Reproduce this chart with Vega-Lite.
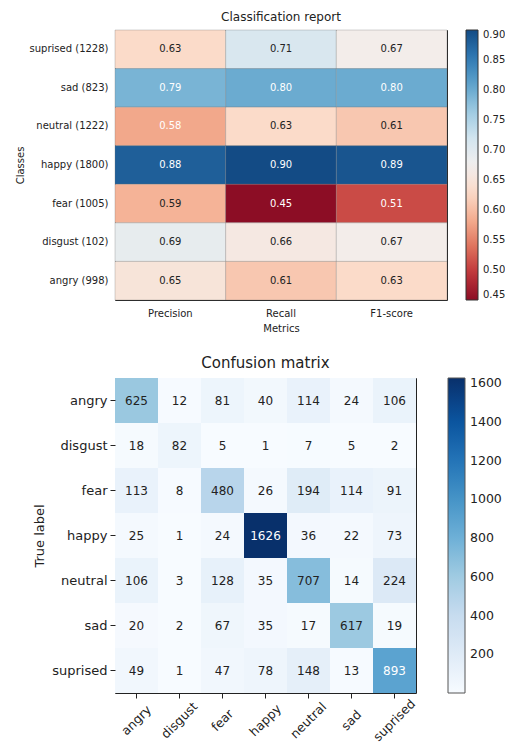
{
  "$schema": "https://vega.github.io/schema/vega-lite/v6.json",
  "padding": {"left": 14, "top": 10, "right": 0, "bottom": 0},
  "background": "white",
  "config": {
    "font": "DejaVu Sans",
    "view": {"stroke": "#222", "strokeWidth": 1},
    "axis": {"domain": false, "grid": false, "labelColor": "#222", "titleColor": "#222", "titleFontWeight": "normal", "tickColor": "#222"},
    "title": {"fontWeight": "normal", "color": "#222"},
    "legend": {"labelColor": "#222"}
  },
  "bounds": "flush",
  "spacing": 78,
  "resolve": {"scale": {"color": "independent"}, "legend": {"color": "independent"}},
  "datasets": {
    "report": [
      {"cls": "suprised (1228)", "metric": "Precision", "value": 0.63},
      {"cls": "suprised (1228)", "metric": "Recall", "value": 0.71},
      {"cls": "suprised (1228)", "metric": "F1-score", "value": 0.67},
      {"cls": "sad (823)", "metric": "Precision", "value": 0.79},
      {"cls": "sad (823)", "metric": "Recall", "value": 0.80},
      {"cls": "sad (823)", "metric": "F1-score", "value": 0.80},
      {"cls": "neutral (1222)", "metric": "Precision", "value": 0.58},
      {"cls": "neutral (1222)", "metric": "Recall", "value": 0.63},
      {"cls": "neutral (1222)", "metric": "F1-score", "value": 0.61},
      {"cls": "happy (1800)", "metric": "Precision", "value": 0.88},
      {"cls": "happy (1800)", "metric": "Recall", "value": 0.90},
      {"cls": "happy (1800)", "metric": "F1-score", "value": 0.89},
      {"cls": "fear (1005)", "metric": "Precision", "value": 0.59},
      {"cls": "fear (1005)", "metric": "Recall", "value": 0.45},
      {"cls": "fear (1005)", "metric": "F1-score", "value": 0.51},
      {"cls": "disgust (102)", "metric": "Precision", "value": 0.69},
      {"cls": "disgust (102)", "metric": "Recall", "value": 0.66},
      {"cls": "disgust (102)", "metric": "F1-score", "value": 0.67},
      {"cls": "angry (998)", "metric": "Precision", "value": 0.65},
      {"cls": "angry (998)", "metric": "Recall", "value": 0.61},
      {"cls": "angry (998)", "metric": "F1-score", "value": 0.63}
    ],
    "cm": [
      {"t": "angry", "p": "angry", "n": 625}, {"t": "angry", "p": "disgust", "n": 12}, {"t": "angry", "p": "fear", "n": 81}, {"t": "angry", "p": "happy", "n": 40}, {"t": "angry", "p": "neutral", "n": 114}, {"t": "angry", "p": "sad", "n": 24}, {"t": "angry", "p": "suprised", "n": 106},
      {"t": "disgust", "p": "angry", "n": 18}, {"t": "disgust", "p": "disgust", "n": 82}, {"t": "disgust", "p": "fear", "n": 5}, {"t": "disgust", "p": "happy", "n": 1}, {"t": "disgust", "p": "neutral", "n": 7}, {"t": "disgust", "p": "sad", "n": 5}, {"t": "disgust", "p": "suprised", "n": 2},
      {"t": "fear", "p": "angry", "n": 113}, {"t": "fear", "p": "disgust", "n": 8}, {"t": "fear", "p": "fear", "n": 480}, {"t": "fear", "p": "happy", "n": 26}, {"t": "fear", "p": "neutral", "n": 194}, {"t": "fear", "p": "sad", "n": 114}, {"t": "fear", "p": "suprised", "n": 91},
      {"t": "happy", "p": "angry", "n": 25}, {"t": "happy", "p": "disgust", "n": 1}, {"t": "happy", "p": "fear", "n": 24}, {"t": "happy", "p": "happy", "n": 1626}, {"t": "happy", "p": "neutral", "n": 36}, {"t": "happy", "p": "sad", "n": 22}, {"t": "happy", "p": "suprised", "n": 73},
      {"t": "neutral", "p": "angry", "n": 106}, {"t": "neutral", "p": "disgust", "n": 3}, {"t": "neutral", "p": "fear", "n": 128}, {"t": "neutral", "p": "happy", "n": 35}, {"t": "neutral", "p": "neutral", "n": 707}, {"t": "neutral", "p": "sad", "n": 14}, {"t": "neutral", "p": "suprised", "n": 224},
      {"t": "sad", "p": "angry", "n": 20}, {"t": "sad", "p": "disgust", "n": 2}, {"t": "sad", "p": "fear", "n": 67}, {"t": "sad", "p": "happy", "n": 35}, {"t": "sad", "p": "neutral", "n": 17}, {"t": "sad", "p": "sad", "n": 617}, {"t": "sad", "p": "suprised", "n": 19},
      {"t": "suprised", "p": "angry", "n": 49}, {"t": "suprised", "p": "disgust", "n": 1}, {"t": "suprised", "p": "fear", "n": 47}, {"t": "suprised", "p": "happy", "n": 78}, {"t": "suprised", "p": "neutral", "n": 148}, {"t": "suprised", "p": "sad", "n": 13}, {"t": "suprised", "p": "suprised", "n": 893}
    ]
  },
  "vconcat": [
    {
      "width": 332,
      "height": 270,
      "title": {"text": "Classification report", "fontSize": 12, "offset": 6},
      "data": {"name": "report"},
      "encoding": {
        "x": {"field": "metric", "type": "nominal", "sort": ["Precision", "Recall", "F1-score"],
          "axis": {"labelAngle": 0, "ticks": false, "labelPadding": 8, "title": "Metrics", "titlePadding": 5, "labelFontSize": 10, "titleFontSize": 10}},
        "y": {"field": "cls", "type": "nominal",
          "sort": ["suprised (1228)", "sad (823)", "neutral (1222)", "happy (1800)", "fear (1005)", "disgust (102)", "angry (998)"],
          "axis": {"ticks": false, "labelPadding": 7, "title": "Classes", "titlePadding": 4, "labelFontSize": 10, "titleFontSize": 10}}
      },
      "layer": [
        {
          "mark": {"type": "rect", "stroke": "#777", "strokeWidth": 0.6, "strokeOpacity": 0.5},
          "encoding": {
            "color": {"field": "value", "type": "quantitative",
              "scale": {"scheme": "redblue", "domain": [0.45, 0.9]},
              "legend": {"orient": "right", "offset": 19, "gradientLength": 270, "gradientThickness": 12, "title": null,
                "values": [0.45, 0.5, 0.55, 0.6, 0.65, 0.7, 0.75, 0.8, 0.85, 0.9], "format": ".2f",
                "labelFontSize": 10, "labelOffset": 5, "gradientStrokeColor": "#333", "gradientStrokeWidth": 1}}
          }
        },
        {
          "mark": {"type": "text", "fontSize": 10},
          "encoding": {
            "text": {"field": "value", "type": "quantitative", "format": ".2f"},
            "color": {"condition": {"test": "datum.value >= 0.75 || datum.value <= 0.58", "value": "white"}, "value": "#222"}
          }
        }
      ]
    },
    {
      "width": 301,
      "height": 315,
      "title": {"text": "Confusion matrix", "fontSize": 15, "offset": 7},
      "data": {"name": "cm"},
      "encoding": {
        "x": {"field": "p", "type": "nominal", "sort": ["angry", "disgust", "fear", "happy", "neutral", "sad", "suprised"],
          "axis": {"labelAngle": -45, "labelAlign": "center", "labelBaseline": "middle", "tickSize": 5, "labelPadding": 22, "title": null, "labelFontSize": 12.5}},
        "y": {"field": "t", "type": "nominal", "sort": ["angry", "disgust", "fear", "happy", "neutral", "sad", "suprised"],
          "axis": {"tickSize": 5, "labelPadding": 3, "title": "True label", "titlePadding": 5, "labelFontSize": 13, "titleFontSize": 13}}
      },
      "layer": [
        {
          "mark": {"type": "rect"},
          "encoding": {
            "color": {"field": "n", "type": "quantitative",
              "scale": {"domain": [1, 204.125, 407.25, 610.375, 813.5, 1016.625, 1219.75, 1422.875, 1626],
                "range": ["#f7fbff", "#deebf7", "#c6dbef", "#9ecae1", "#6baed6", "#4292c6", "#2171b5", "#08519c", "#08306b"]},
              "legend": {"orient": "right", "offset": 32, "gradientLength": 315, "gradientThickness": 17, "title": null,
                "values": [200, 400, 600, 800, 1000, 1200, 1400, 1600], "format": "d",
                "labelFontSize": 12.5, "labelOffset": 5, "gradientStrokeColor": "#555", "gradientStrokeWidth": 1}}
          }
        },
        {
          "mark": {"type": "text", "fontSize": 12},
          "encoding": {
            "text": {"field": "n", "type": "quantitative", "format": "d"},
            "color": {"condition": {"test": "datum.n > 813", "value": "white"}, "value": "#222"}
          }
        }
      ]
    }
  ]
}
